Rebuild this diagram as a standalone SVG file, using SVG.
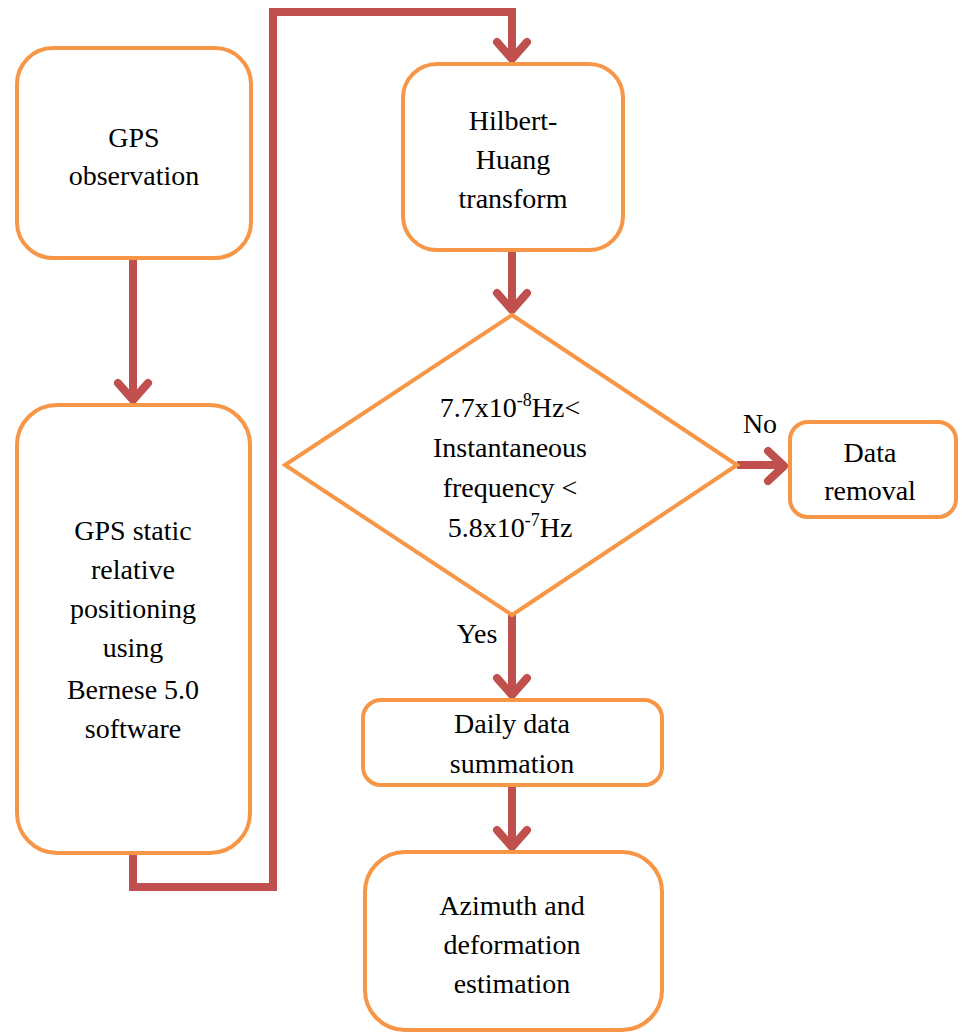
<svg xmlns="http://www.w3.org/2000/svg" width="961" height="1034" viewBox="0 0 961 1034">
<style>
.box{fill:#fff;stroke:#F79646;stroke-width:4}
.t{font-family:'Liberation Serif','DejaVu Serif',serif;font-size:28px;fill:#000;text-anchor:middle}
.c{fill:none;stroke:#C0504D;stroke-width:8;stroke-linejoin:miter}
.ah{fill:none;stroke:#C0504D;stroke-width:8;stroke-linecap:round;stroke-linejoin:round}
</style>
<rect width="961" height="1034" fill="#fff"/>
<g id="connectors">
<path class="c" d="M133,258 V400"/>
<polyline class="ah" points="118,383 133,400 148,383"/>
<path class="c" d="M133,853 V887 H273 V12 H512 V58"/>
<polyline class="ah" points="497,42 512,59 527,42"/>
<path class="c" d="M512,250 V310"/>
<polyline class="ah" points="497,293 512,310 527,293"/>
<path class="c" d="M737,465 H784"/>
<polyline class="ah" points="768,451 784,466 768,481"/>
<path class="c" d="M512,615 V695"/>
<polyline class="ah" points="497,678 512,695 527,678"/>
<path class="c" d="M512,785 V847"/>
<polyline class="ah" points="497,830 512,847 527,830"/>
</g>
<g id="gps-observation">
<rect class="box" x="17" y="48" width="234" height="210" rx="36"/>
<text class="t" x="134" y="147">GPS</text>
<text class="t" x="134" y="185">observation</text>
</g>
<g id="gps-static">
<rect class="box" x="17" y="405" width="233" height="448" rx="40"/>
<text class="t" x="133" y="540">GPS static</text>
<text class="t" x="133" y="579">relative</text>
<text class="t" x="133" y="618">positioning</text>
<text class="t" x="133" y="657">using</text>
<text class="t" x="133" y="699">Bernese 5.0</text>
<text class="t" x="133" y="738">software</text>
</g>
<g id="hht">
<rect class="box" x="403" y="64" width="220" height="186" rx="34"/>
<text class="t" x="513" y="130">Hilbert-</text>
<text class="t" x="513" y="169">Huang</text>
<text class="t" x="513" y="208">transform</text>
</g>
<g id="decision">
<polygon class="box" points="512,315 737,465 512,615 285,465"/>
<text class="t" x="510" y="417">7.7x10<tspan font-size="18" dy="-11">-8</tspan><tspan dy="11">Hz&lt;</tspan></text>
<text class="t" x="510" y="457">Instantaneous</text>
<text class="t" x="510" y="497">frequency  &lt;</text>
<text class="t" x="510" y="537">5.8x10<tspan font-size="18" dy="-11">-7</tspan><tspan dy="11">Hz</tspan></text>
<text class="t" x="760" y="433">No</text>
<text class="t" x="477" y="643">Yes</text>
</g>
<g id="data-removal">
<rect class="box" x="790" y="422" width="166" height="95" rx="18"/>
<text class="t" x="870" y="462">Data</text>
<text class="t" x="870" y="500">removal</text>
</g>
<g id="daily">
<rect class="box" x="363" y="700" width="299" height="85" rx="18"/>
<text class="t" x="512" y="733">Daily data</text>
<text class="t" x="512" y="773">summation</text>
</g>
<g id="azimuth">
<rect class="box" x="365" y="852" width="297" height="178" rx="40"/>
<text class="t" x="512" y="915">Azimuth and</text>
<text class="t" x="512" y="954">deformation</text>
<text class="t" x="512" y="993">estimation</text>
</g>
</svg>
